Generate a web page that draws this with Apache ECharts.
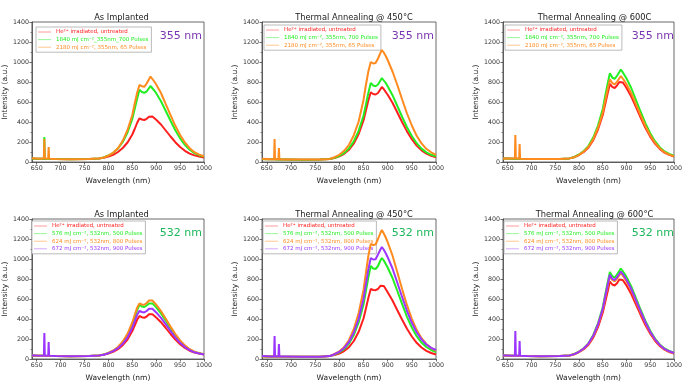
<!DOCTYPE html>
<html><head><meta charset="utf-8">
<script src="https://cdn.jsdelivr.net/npm/echarts@6/dist/echarts.min.js"></script>
<style>html,body{margin:0;padding:0;background:#fff}#c{width:685px;height:384px}</style>
</head><body><div id="c"></div><script>
// Wavelength sample points (nm)
const wavelengths = [640,650,660,665,666,667,674,675,676,690,720,760,780,
  790,800,810,820,830,840,850,855,860,865,870,875,880,885,888,892,896,900,910,920,930,940,950,960,970,980,990,1000];
const xTickValues = [650,700,750,800,850,900,950,1000];

const panelTitles = ['As Implanted','Thermal Annealing @ 450°C','Thermal Annealing @ 600C',
  'As Implanted','Thermal Annealing @ 450°C','Thermal Annealing @ 600°C'];
const panelTags = ['355 nm','355 nm','355 nm','532 nm','532 nm','532 nm'];

const names355a = ['He²⁺ irradiated, untreated','1840 mJ cm⁻²_355nm_700 Pulses','2180 mJ cm⁻², 355nm, 65 Pulses'];
const names355b = ['He²⁺ irradiated, untreated','1840 mJ cm⁻², 355nm, 700 Pulses','2180 mJ cm⁻², 355nm, 65 Pulses'];
const names532 = ['He²⁺ irradiated, untreated','576 mJ cm⁻², 532nm, 500 Pulses','624 mJ cm⁻², 532nm, 800 Pulses','672 mJ cm⁻², 532nm, 900 Pulses'];

// Panel 1: As Implanted, 355 nm
const p1Red    = [35,33,32,32,32,32,31,31,31,30,28,29,34, 42,55,72,100,140,195,275,330,390,437,425,420,432,452,465,455,440,422,375,315,255,198,150,112,84,66,55,46];
const p1Green  = [35,33,32,32,250,32,31,31,31,30,28,30,36, 46,65,92,135,200,295,430,530,630,722,700,692,705,738,760,740,715,688,608,510,412,318,237,172,123,89,68,55];
const p1Orange = [38,35,33,34,230,34,33,150,33,31,28,30,35, 45,63,92,138,212,320,470,585,690,770,758,752,785,828,855,830,805,775,690,578,468,362,270,195,138,98,74,58];
// Panel 2: 450°C, 355 nm
const p2Red    = [30,28,27,27,27,27,26,26,26,25,23,24,30, 40,56,82,122,185,280,415,515,615,698,680,675,690,728,750,728,700,672,592,495,398,306,228,164,116,84,62,48];
const p2Green  = [30,28,27,27,27,27,26,26,26,25,23,24,30, 42,60,90,136,208,312,462,575,690,790,765,758,775,815,840,815,790,758,668,560,450,348,260,188,134,96,72,56];
const p2Orange = [32,30,28,28,230,28,27,140,27,26,24,25,31, 48,72,112,172,268,405,620,770,905,1000,985,990,1035,1090,1120,1095,1060,1020,905,770,625,485,365,262,186,132,97,72];
// Panel 3: 600C, 355 nm
const p3Red    = [35,34,33,33,33,33,32,32,32,31,29,30,36, 48,70,100,145,218,325,470,575,680,780,752,740,765,800,820,796,770,740,655,548,442,340,254,184,131,94,71,55];
const p3Green  = [35,34,33,33,33,33,32,32,32,31,29,30,36, 50,75,110,162,245,365,530,655,775,888,845,832,862,900,925,898,868,836,740,620,500,385,288,208,148,106,80,62];
const p3Orange = [36,35,34,34,270,34,33,180,33,31,29,30,36, 48,72,104,152,228,340,492,608,720,826,790,776,802,838,860,835,808,778,688,576,465,358,267,193,137,98,74,57];
// Panel 4: As Implanted, 532 nm
const p4Red    = [35,33,32,32,32,32,31,31,31,30,28,29,34, 42,55,72,98,138,195,280,335,392,430,418,412,425,448,460,448,432,415,368,310,250,194,148,110,83,65,54,45];
const p4Green  = [35,33,32,32,32,32,31,31,31,30,28,29,34, 44,60,82,115,165,238,345,418,490,540,525,520,535,555,570,556,538,516,456,382,308,238,178,130,95,71,57,47];
const p4Orange = [35,33,32,32,32,32,31,31,31,30,28,29,34, 44,61,85,120,175,252,365,440,512,555,545,542,560,585,600,585,566,543,480,402,324,250,186,136,98,73,58,48];
const p4Purple = [36,34,33,33,260,33,32,170,32,30,28,29,34, 43,58,78,108,152,216,312,376,440,482,470,466,480,502,515,502,485,466,412,346,279,215,162,119,88,67,55,46];
// Panel 5: 450°C, 532 nm
const p5Red    = [28,26,25,25,25,25,24,24,24,23,22,23,29, 40,55,80,118,180,272,405,505,610,700,690,688,700,732,752,730,700,668,585,488,392,302,225,162,115,82,60,45];
const p5Green  = [28,26,25,25,25,25,24,24,24,23,22,23,29, 45,66,100,155,240,365,545,680,815,930,905,900,930,985,1010,985,950,915,810,680,548,422,315,228,164,120,90,70];
const p5Orange = [28,26,25,25,25,25,24,24,24,23,22,23,29, 50,76,120,190,300,460,690,860,1030,1150,1140,1145,1200,1260,1290,1255,1215,1168,1035,868,698,538,402,292,208,150,110,82];
const p5Purple = [30,28,26,26,230,26,25,150,25,24,22,23,29, 48,72,110,170,265,402,600,748,895,1010,995,998,1045,1095,1120,1092,1058,1018,905,762,618,480,362,268,196,145,112,90];
// Panel 6: 600°C, 532 nm
const p6Red    = [34,33,32,32,32,32,31,31,31,30,28,29,35, 47,68,98,142,214,318,462,565,668,775,745,735,758,795,815,790,764,735,650,544,438,337,252,182,130,93,70,54];
const p6Green  = [34,33,32,32,32,32,31,31,31,30,28,29,36, 50,74,108,158,240,357,518,640,758,870,828,815,845,882,905,880,852,820,726,608,490,378,282,204,146,105,80,62];
const p6Orange = [34,33,32,32,32,32,31,31,31,30,28,29,35, 48,72,104,152,228,340,492,608,720,826,790,776,802,838,860,835,808,778,688,576,465,358,267,193,137,98,74,57];
const p6Purple = [35,34,33,33,280,33,32,180,32,30,28,29,35, 49,72,105,154,232,345,500,618,732,842,802,790,818,853,875,850,823,792,700,587,474,365,272,197,141,101,77,60];

const RED='#ff1e1e', GREEN='#22ee22', ORANGE='#ff8a1e', PURPLE='#9b35ff';
const PALE={[RED]:'#ff9a9a',[GREEN]:'#99f599',[ORANGE]:'#ffc890',[PURPLE]:'#d2a8ff'};

const panels = [
  {grid:{left:29,top:22,width:175,height:140}, names:names355a, colors:[RED,GREEN,ORANGE], data:[p1Red,p1Green,p1Orange], tagColor:'#7a35b0', legendLeft:36, legendTop:27},
  {grid:{left:262,top:22,width:174,height:140}, names:names355b, colors:[RED,GREEN,ORANGE], data:[p2Red,p2Green,p2Orange], tagColor:'#7a35b0', legendLeft:264, legendTop:25},
  {grid:{left:503,top:22,width:173,height:140}, names:names355b, colors:[RED,GREEN,ORANGE], data:[p3Red,p3Green,p3Orange], tagColor:'#7a35b0', legendLeft:505, legendTop:25},
  {grid:{left:29,top:219,width:175,height:140}, names:names532, colors:[RED,GREEN,ORANGE,PURPLE], data:[p4Red,p4Green,p4Orange,p4Purple], tagColor:'#1db85c', legendLeft:32, legendTop:221},
  {grid:{left:262,top:219,width:174,height:140}, names:names532, colors:[RED,GREEN,ORANGE,PURPLE], data:[p5Red,p5Green,p5Orange,p5Purple], tagColor:'#1db85c', legendLeft:263, legendTop:221},
  {grid:{left:503,top:219,width:173,height:140}, names:names532, colors:[RED,GREEN,ORANGE,PURPLE], data:[p6Red,p6Green,p6Orange,p6Purple], tagColor:'#1db85c', legendLeft:504, legendTop:221}
];

const FONT='DejaVu Sans';
const grids=[], xAxes=[], yAxes=[], series=[], legends=[], titles=[];
panels.forEach((p,i)=>{
  grids.push(Object.assign({show:true,borderColor:'#444',borderWidth:0.8,backgroundColor:'#fff'},p.grid));
  xAxes.push({gridIndex:i,type:'value',min:640,max:1000,
    name:'Wavelength (nm)',nameLocation:'middle',nameGap:15,
    nameTextStyle:{fontFamily:FONT,fontSize:7.5,color:'#222'},
    axisLine:{lineStyle:{color:'#444',width:0.8}},
    axisTick:{customValues:xTickValues,length:2.5,lineStyle:{color:'#444',width:0.8}},
    axisLabel:{customValues:xTickValues,fontFamily:FONT,fontSize:6.3,color:'#333',margin:3,formatter:v=>String(v)},
    splitLine:{show:false}});
  yAxes.push({gridIndex:i,type:'value',min:0,max:1400,interval:200,
    name:'Intensity (a.u.)',nameLocation:'middle',nameGap:20,nameRotate:90,
    nameTextStyle:{fontFamily:FONT,fontSize:7.5,color:'#222'},
    axisLine:{show:true,lineStyle:{color:'#444',width:0.8}},
    axisTick:{length:2.5,lineStyle:{color:'#444',width:0.8}},
    minorTick:{show:true,splitNumber:2,length:1.5,lineStyle:{color:'#444',width:0.6}},
    axisLabel:{fontFamily:FONT,fontSize:6.3,color:'#333',margin:3,formatter:v=>String(v)},
    splitLine:{show:false}});
  p.names.forEach((n,k)=>{
    series.push({type:'line',name:n,xAxisIndex:i,yAxisIndex:i,symbol:'none',
      lineStyle:{color:p.colors[k],width:2},itemStyle:{color:p.colors[k]},
      data:wavelengths.map((w,j)=>[w,p.data[k][j]]),z:2+k});
  });
  legends.push({left:p.legendLeft,top:p.legendTop,orient:'vertical',
    icon:'rect',itemWidth:13,itemHeight:1,itemGap:1.6,padding:[2,3,2,2],
    borderColor:'#aaa',borderWidth:0.8,backgroundColor:'#fff',
    selectedMode:false,
    textStyle:{fontFamily:FONT,fontSize:5.5},
    data:p.names.map((n,k)=>({name:n,icon:'rect',textStyle:{color:p.colors[k]},
      itemStyle:{color:PALE[p.colors[k]]}}))});
  titles.push({text:panelTitles[i],left:p.grid.left+p.grid.width/2,top:p.grid.top-13,textAlign:'center',
    textStyle:{fontFamily:FONT,fontSize:8.3,fontWeight:'normal',color:'#222'}});
  titles.push({text:panelTags[i],left:p.grid.left+p.grid.width-7,top:p.grid.top+4,textAlign:'right',
    textStyle:{fontFamily:FONT,fontSize:11,fontWeight:'normal',color:p.tagColor}});
});

const chart = echarts.init(document.getElementById('c'),null,{renderer:'canvas'});
chart.setOption({backgroundColor:'#fff',animation:false,title:titles,grid:grids,xAxis:xAxes,yAxis:yAxes,legend:legends,series:series});
</script></body></html>
